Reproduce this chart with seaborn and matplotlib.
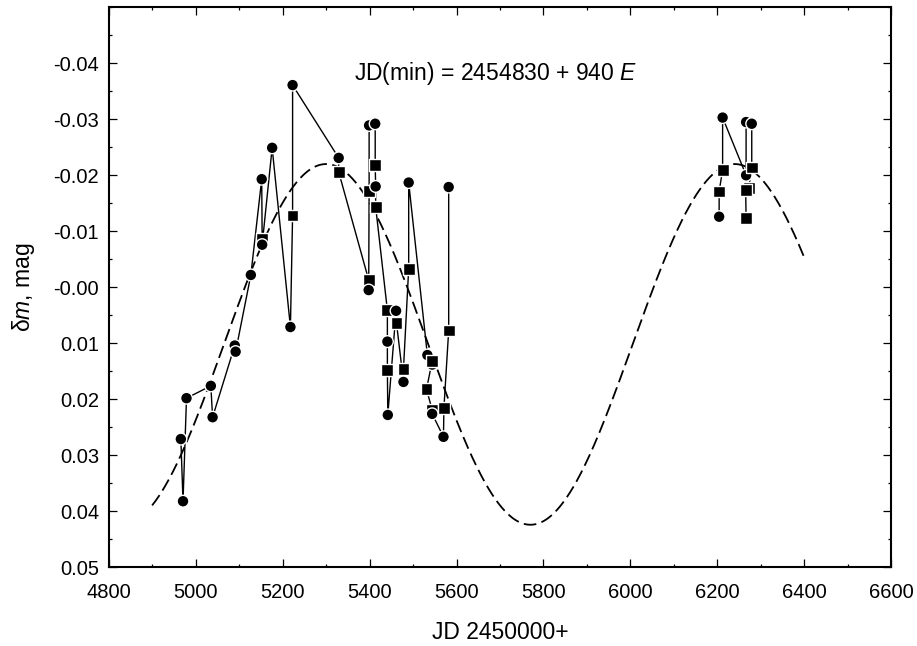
import matplotlib
matplotlib.use("Agg")
import matplotlib.pyplot as plt
from matplotlib.ticker import MultipleLocator
import seaborn as sns
import numpy as np
import pandas as pd

# observed points, in the order they are joined by the thin line
jd = [4966, 4971, 4979, 5035, 5039, 5090, 5092, 5127, 5152, 5153, 5153, 5176,
      5218, 5223, 5223, 5329, 5329, 5398, 5398, 5399, 5399, 5413, 5413, 5414,
      5414, 5441, 5441, 5441, 5442, 5461, 5462, 5478, 5478, 5490, 5490, 5533,
      5544, 5544, 5531, 5544, 5544, 5570, 5571, 5582, 5582,
      6204, 6204, 6212, 6212, 6266, 6266, 6279, 6279, 6272, 6265, 6266]
dm = [0.0271, 0.0382, 0.0198, 0.0176, 0.0232, 0.0104, 0.0115, -0.0022, -0.0193,
      -0.0087, -0.0076, -0.0249, 0.0071, -0.0128, -0.0361, -0.0231, -0.0206,
      -0.0013, 0.0005, -0.0172, -0.0289, -0.0292, -0.0219, -0.0180, -0.0144,
      0.0041, 0.0097, 0.0147, 0.0228, 0.0042, 0.0064, 0.0169, 0.0146, -0.0033,
      -0.0187, 0.0121, 0.0138, 0.0132, 0.0182, 0.0219, 0.0226, 0.0267, 0.0216,
      0.0077, -0.0179,
      -0.0126, -0.0171, -0.0210, -0.0303, -0.0200, -0.0295, -0.0292, -0.0214,
      -0.0177, -0.0174, -0.0123]
kind = ["c", "c", "c", "c", "c", "c", "c", "c", "c", "s", "c", "c",
        "c", "s", "c", "c", "s", "s", "c", "s", "c", "c", "s", "c",
        "s", "s", "c", "s", "c", "c", "s", "c", "s", "s", "c", "c",
        "c", "s", "s", "s", "c", "c", "s", "s", "c",
        "c", "s", "s", "c", "c", "c", "c", "s", "s", "s", "s"]
season = [1] * 45 + [2] * 11

# sine fit: JD(min) = 2454830 + 940 E
T_MIN = 4830
PERIOD = 940
FIT_MEAN = 0.0102
FIT_AMP = 0.0322
FIT_START, FIT_END = 4900, 6400

ytick_vals = [-0.04, -0.03, -0.02, -0.01, 0.0, 0.01, 0.02, 0.03, 0.04, 0.05]
ytick_labels = ["-0.04", "-0.03", "-0.02", "-0.01", "-0.00",
                "0.01", "0.02", "0.03", "0.04", "0.05"]

df = pd.DataFrame({"jd": jd, "dm": dm, "kind": kind, "season": season})
t_fit = np.linspace(FIT_START, FIT_END, 600)
fit = pd.DataFrame({"jd": t_fit,
                    "dm": FIT_MEAN + FIT_AMP * np.cos(2 * np.pi * (t_fit - T_MIN) / PERIOD)})

sns.set_theme(style="ticks")
plt.rcParams["font.family"] = ["Liberation Sans", "DejaVu Sans"]
plt.rcParams["mathtext.fontset"] = "custom"
plt.rcParams["mathtext.rm"] = "Liberation Sans"
plt.rcParams["mathtext.it"] = "Liberation Sans:italic"
plt.rcParams["text.color"] = "black"
plt.rcParams["axes.labelcolor"] = "black"
plt.rcParams["xtick.color"] = "black"
plt.rcParams["ytick.color"] = "black"

fig = plt.figure(figsize=(9.17, 6.46), dpi=100)
ax = fig.add_axes([0.1185, 0.1218, 0.8535, 0.867])

sns.lineplot(data=fit, x="jd", y="dm", color="black", lw=1.3,
             linestyle=(0, (7, 3)), ax=ax)
sns.lineplot(data=df, x="jd", y="dm", units="season", estimator=None, sort=False,
             color="black", lw=1.0, ax=ax, legend=False)
sns.scatterplot(data=df, x="jd", y="dm", style="kind", markers={"c": "o", "s": "s"},
                color="black", s=72, edgecolor="white", linewidth=1.0,
                legend=False, ax=ax, zorder=3)

ax.text(5689, -0.0381, "JD(min) = 2454830 + 940 $E$", ha="center", va="center",
        fontsize=16.5)

ax.set_xlim(4800, 6600)
ax.set_ylim(0.05, -0.05)
ax.xaxis.set_major_locator(MultipleLocator(200))
ax.xaxis.set_minor_locator(MultipleLocator(100))
ax.set_yticks(ytick_vals, ytick_labels)
ax.yaxis.set_minor_locator(MultipleLocator(0.005))
ax.tick_params(which="both", direction="in", top=True, right=True,
               colors="black", labelsize=14.5, width=0.9)
ax.tick_params(which="major", length=6, pad=7)
ax.tick_params(which="minor", length=2.5)
ax.tick_params(axis="x", which="major", pad=11)
for sp in ax.spines.values():
    sp.set_linewidth(1.5)
    sp.set_color("black")

ax.set_xlabel("JD 2450000+", fontsize=16.5, labelpad=14)
ax.set_ylabel("δ$m$, mag", fontsize=16.5, labelpad=12)

fig.savefig("out.png", dpi=100)
